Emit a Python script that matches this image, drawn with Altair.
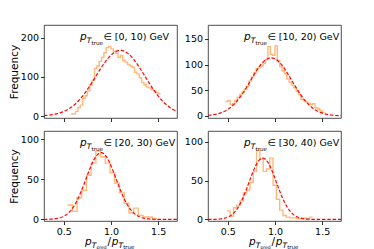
import altair as alt
import numpy as np
import pandas as pd

FONT = "DejaVu Sans"
X_DOMAIN = [0.29, 1.70]
X_TICKS = [0.5, 1.0, 1.5]

ranges = ["\u2208 [0, 10) GeV", "\u2208 [10, 20) GeV", "\u2208 [20, 30) GeV", "\u2208 [30, 40) GeV"]

# histogram bins: first left edge, bin width, counts
hist_start = [0.575, 0.475, 0.54, 0.49]
hist_width = [0.025, 0.025, 0.05, 0.035]
counts_0_10 = [5, 6, 12, 22, 28, 45, 52, 64, 80, 92, 122, 128, 140, 150, 162, 175, 178, 172, 166,
               160, 150, 155, 142, 138, 132, 128, 125, 112, 108, 98, 86, 80, 74, 72, 68, 65, 60, 57]
counts_10_20 = [28, 30, 22, 24, 30, 36, 42, 46, 52, 58, 68, 76, 84, 92, 95, 97, 102, 110, 135, 120,
                118, 136, 108, 96, 88, 82, 72, 66, 60, 55, 48, 42, 32, 30, 27, 25, 22, 24, 16, 14, 10, 7]
counts_20_30 = [18, 10, 27, 36, 55, 70, 85, 78, 70, 58, 45, 33, 20, 8, 14, 5, 3, 3, 1]
counts_30_40 = [11, 4, 15, 18, 24, 34, 38, 48, 62, 89, 78, 62, 65, 79, 44, 26, 12, 5, 3, 2, 2, 1, 1, 2, 1, 3]
counts = [counts_0_10, counts_10_20, counts_20_30, counts_30_40]

# Gaussian fit parameters
fit_amp = [168, 113, 83, 79]
fit_mu = [1.10, 0.96, 0.895, 0.87]
fit_sigma = [0.26, 0.22, 0.16, 0.145]

y_domains = [[-5, 233], [-4, 177], [-2, 110], [-2, 114]]
y_ticks = [[0, 100, 200], [0, 50, 100, 150], [0, 50, 100], [0, 50, 100]]

W = 133
H_TOP = 93
H_BOT = 90


def txt(s, x, y, size, italic=False):
    return alt.Chart(pd.DataFrame({"t": [s]})).mark_text(
        font=FONT, fontSize=size, fontStyle="italic" if italic else "normal",
        align="left", baseline="alphabetic", color="black"
    ).encode(text="t:N", x=alt.value(x), y=alt.value(y))


def panel(i, bottom, left, h):
    n = len(counts[i])
    edges = [hist_start[i] + k * hist_width[i] for k in range(n + 1)]
    vals = counts[i] + [counts[i][-1]]
    hist_df = pd.DataFrame({"x": edges, "y": vals})
    xs = np.linspace(X_DOMAIN[0], X_DOMAIN[1], 200)
    ys = fit_amp[i] * np.exp(-((xs - fit_mu[i]) ** 2) / (2 * fit_sigma[i] ** 2))
    curve_df = pd.DataFrame({"x": xs, "y": ys})

    xaxis = alt.Axis(values=X_TICKS, format=".1f", labels=bottom, title=None,
                     labelOverlap=False, labelFlush=False)
    yaxis = alt.Axis(values=y_ticks[i], format="d", labelOverlap=False, labelFlush=False,
                     title="Frequency" if left else None)
    xscale = alt.Scale(domain=X_DOMAIN, nice=False, zero=False)
    yscale = alt.Scale(domain=y_domains[i], nice=False, zero=False)
    hist = alt.Chart(hist_df).mark_line(
        interpolate="step-after", color="#ff7f0e", strokeOpacity=0.55, strokeWidth=1.4
    ).encode(x=alt.X("x:Q", scale=xscale, axis=xaxis),
             y=alt.Y("y:Q", scale=yscale, axis=yaxis))
    curve = alt.Chart(curve_df).mark_line(
        color="red", strokeDash=[3.5, 1.8], strokeWidth=1.2
    ).encode(x=alt.X("x:Q", scale=xscale, axis=xaxis),
             y=alt.Y("y:Q", scale=yscale, axis=yaxis))
    layers = [hist, curve,
              txt("p", 36, 15, 10.5, True),
              txt("T", 42.8, 17.5, 7.5, True),
              txt("true", 47.5, 19.5, 5.5),
              txt(ranges[i], 59.5, 15, 9.5)]
    if bottom:
        b = h
        layers += [txt("p", 41, b + 24, 10.5, True),
                   txt("T", 47.8, b + 26.5, 7.5, True),
                   txt("pred", 52.4, b + 27.5, 4.5),
                   txt("/", 63.5, b + 24, 10.5),
                   txt("p", 67.7, b + 24, 10.5, True),
                   txt("T", 74.6, b + 26.5, 7.5, True),
                   txt("true", 79.2, b + 27.5, 5.5)]
    return alt.layer(*layers).properties(width=W, height=h)


top = alt.hconcat(panel(0, False, True, H_TOP), panel(1, False, False, H_TOP), spacing=3)
bot = alt.hconcat(panel(2, True, True, H_BOT), panel(3, True, False, H_BOT), spacing=3)

chart = alt.vconcat(top, bot, spacing=7).properties(
    padding={"left": 0, "top": 16, "right": 0, "bottom": 0}
).configure_axis(
    labelFont=FONT, labelFontSize=9.5, labelColor="black",
    titleFont=FONT, titleFontSize=10.5, titleFontWeight="normal", titleColor="black",
    titlePadding=1, grid=False, domain=False, tickColor="black", tickSize=3.5,
    tickWidth=0.8, labelPadding=2, labelOverlap=False
).configure_view(stroke="#222222", strokeWidth=0.8)

chart.save("out.html", embed_options={"renderer": "svg", "actions": False})
